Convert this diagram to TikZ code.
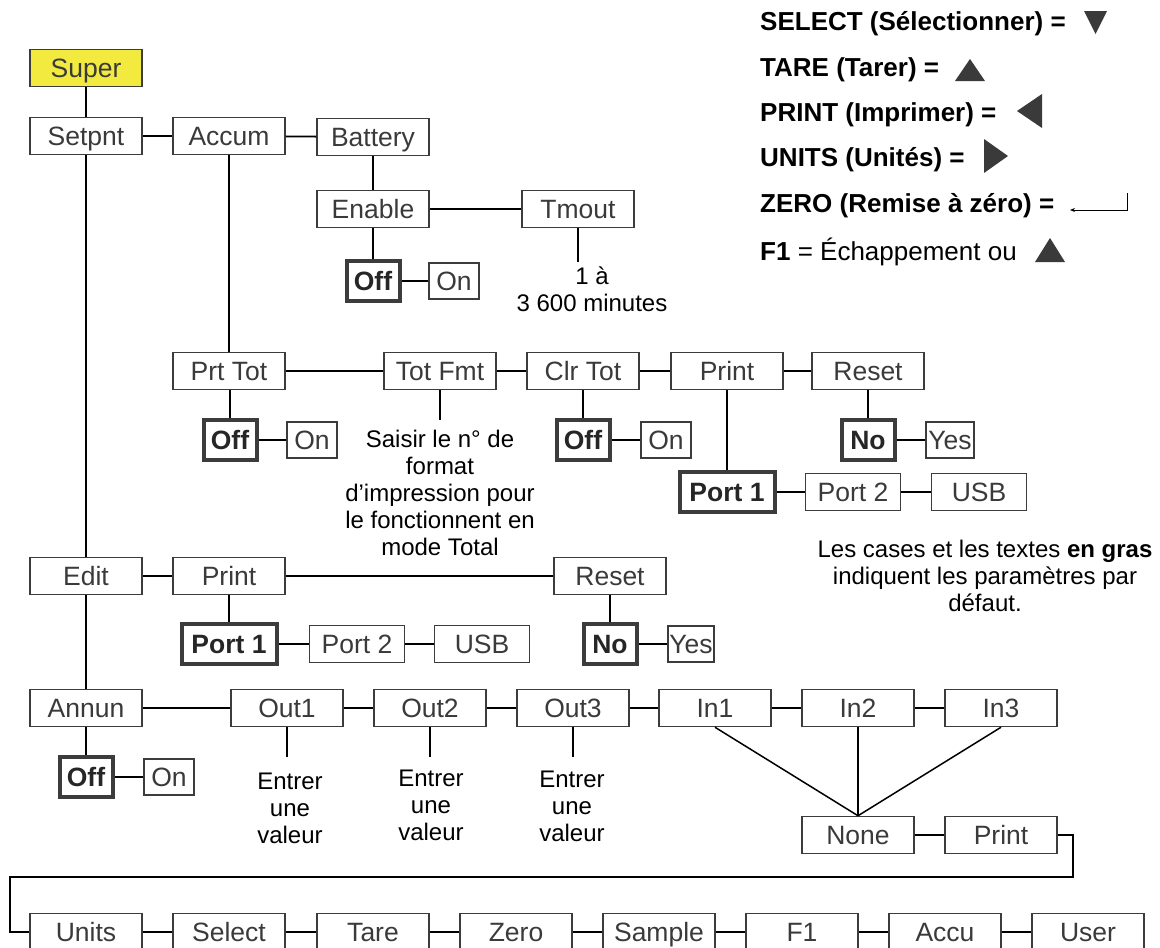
\documentclass[tikz,border=0pt]{standalone}
\usepackage{fontspec}
\setmainfont{Liberation Sans}
\usetikzlibrary{arrows.meta}
\definecolor{boxgray}{HTML}{3C3C3C}
\definecolor{txtgray}{HTML}{3A3A3A}
\definecolor{symgray}{HTML}{3A3A3A}
\definecolor{superyellow}{HTML}{F2EA3E}
\newcommand\myboxfont{\fontsize{26.5}{29}\selectfont}
\newcommand\mynotefont{\fontsize{24}{27}\selectfont}
\begin{document}
\begin{tikzpicture}[x=1pt,y=-1pt,
  box/.style={draw=boxgray, line width=1.5pt, fill=white, inner sep=0pt,
    minimum width=112pt, minimum height=37pt, font=\myboxfont, text=txtgray,
    text height=19pt, text depth=0pt},
  defbox/.style={box, line width=4pt, font=\myboxfont\bfseries, text=black!85,
    minimum width=53pt, minimum height=40pt},
  small/.style={box, minimum width=50pt, minimum height=36pt},
  port/.style={box, minimum width=95pt},
  link/.style={line width=1.8pt, black},
  note/.style={align=center, font=\mynotefont, inner sep=0pt, text=black},
  legend/.style={anchor=west, font=\fontsize{26}{29}\selectfont\bfseries, inner sep=0pt, text=black},
  tri/.style={fill=symgray}
]
\useasboundingbox (0,0) rectangle (1160,948);
\fill[white] (0,0) rectangle (1160,948);

% ---------- legend ----------
\node[legend] (lsel) at (760,24) {SELECT (Sélectionner) =};
\node[legend] (ltare) at (760,70) {TARE (Tarer) =};
\node[legend] (lprint) at (760,115) {PRINT (Imprimer) =};
\node[legend] (lunits) at (760,160) {UNITS (Unités) =};
\node[legend] (lzero) at (760,206) {ZERO (Remise à zéro) =};
\node[legend] (lf1) at (760,252) {F1 \mdseries= Échappement ou};
\fill[tri] (1084,11) -- (1107,11) -- (1095.5,34) -- cycle;
\fill[tri] (955,81) -- (985,81) -- (970,59) -- cycle;
\fill[tri] (1017,111) -- (1042,94) -- (1042,128) -- cycle;
\fill[tri] (984,139) -- (984,173) -- (1008,156) -- cycle;
\draw[line width=1pt, -{Stealth[length=5pt,width=4pt]}] (1127,193) -- (1127,210) -- (1070,210);
\fill[tri] (1035,262) -- (1065,262) -- (1050,238) -- cycle;

% ---------- Setpnt / Accum / Battery ----------
\node[box, fill=superyellow] (super) at (86,68) {Super};
\node[box] (setpnt) at (86,136) {Setpnt};
\node[box] (accum) at (229,136) {Accum};
\node[box] (battery) at (373,137) {Battery};
\node[box] (enable) at (373,209) {Enable};
\node[box] (tmout) at (578,209) {Tmout};
\node[defbox] (offA) at (373,281) {Off};
\node[small] (onA) at (454,281) {On};
\coordinate (tmend) at (578,262);
\node[note] (tmnote) at (592,289) {1 à\\3 600 minutes};

% ---------- Prt Tot row ----------
\node[box] (prttot) at (229,371) {Prt Tot};
\node[box] (totfmt) at (440,371) {Tot Fmt};
\node[box] (clrtot) at (583,371) {Clr Tot};
\node[box] (printA) at (727,371) {Print};
\node[box] (resetA) at (868,371) {Reset};
\node[defbox] (offB) at (230,440) {Off};
\node[small] (onB) at (312,440) {On};
\coordinate (fmtend) at (440,420);
\node[note] (fmtnote) at (440,493) {Saisir le n° de\\format\\d’impression pour\\le fonctionnent en\\mode Total};
\node[defbox] (offC) at (583,440) {Off};
\node[small] (onC) at (666,440) {On};
\node[defbox] (noA) at (868,440) {No};
\node[small, minimum width=48pt] (yesA) at (950,440) {Yes};
\node[port, defbox, minimum width=95pt] (port1A) at (727,492) {Port 1};
\node[port] (port2A) at (853,492) {Port 2};
\node[port] (usbA) at (979,492) {USB};
\node[note] (defnote) at (985,576) {Les cases et les textes \textbf{en gras}\\indiquent les paramètres par\\défaut.};

% ---------- Edit row ----------
\node[box] (edit) at (86,576) {Edit};
\node[box] (printB) at (229,576) {Print};
\node[box] (resetB) at (610,576) {Reset};
\node[port, defbox, minimum width=95pt] (port1B) at (229,644) {Port 1};
\node[port] (port2B) at (357,644) {Port 2};
\node[port] (usbB) at (482,644) {USB};
\node[defbox] (noB) at (610,644) {No};
\node[small, minimum width=46pt] (yesB) at (691,644) {Yes};

% ---------- Annun row ----------
\node[box] (annun) at (86,708) {Annun};
\node[box] (out1) at (287,708) {Out1};
\node[box] (out2) at (430,708) {Out2};
\node[box] (out3) at (573,708) {Out3};
\node[box] (in1) at (715,708) {In1};
\node[box] (in2) at (858,708) {In2};
\node[box] (in3) at (1001,708) {In3};
\node[defbox] (offD) at (86,777) {Off};
\node[small] (onD) at (169,777) {On};
\coordinate (o1end) at (287,757);
\coordinate (o2end) at (430,757);
\coordinate (o3end) at (573,757);
\node[note] (o1note) at (290,808) {Entrer\\une\\valeur};
\node[note] (o2note) at (431,805) {Entrer\\une\\valeur};
\node[note] (o3note) at (572,806) {Entrer\\une\\valeur};
\node[box] (none) at (858,835) {None};
\node[box] (printC) at (1001,835) {Print};

% ---------- bottom row ----------
\node[box] (units) at (86,932) {Units};
\node[box] (select) at (229,932) {Select};
\node[box] (tare) at (373,932) {Tare};
\node[box] (zero) at (516,932) {Zero};
\node[box] (sample) at (659,932) {Sample};
\node[box] (f1) at (802,932) {F1};
\node[box] (accu) at (945,932) {Accu};
\node[box] (user) at (1088,932) {User};
\coordinate (r1) at (1073,835);
\coordinate (r2) at (1073,877);
\coordinate (r3) at (10,877);

% ---------- connectors ----------
\draw[link] (super) -- (setpnt);
\draw[link] (setpnt) -- (accum);
\draw[link] (accum) -- (battery);
\draw[link] (battery) -- (enable);
\draw[link] (enable) -- (tmout);
\draw[link] (enable) -- (offA);
\draw[link] (offA) -- (onA);
\draw[link] (tmout.south) -- (tmend);
\draw[link] (accum) -- (prttot);
\draw[link] (prttot) -- (totfmt);
\draw[link] (totfmt) -- (clrtot);
\draw[link] (clrtot) -- (printA);
\draw[link] (printA) -- (resetA);
\draw[link] (prttot.south -| offB) -- (offB);
\draw[link] (offB) -- (onB);
\draw[link] (totfmt.south) -- (fmtend);
\draw[link] (clrtot) -- (offC);
\draw[link] (offC) -- (onC);
\draw[link] (resetA) -- (noA);
\draw[link] (noA) -- (yesA);
\draw[link] (printA) -- (port1A);
\draw[link] (port1A) -- (port2A);
\draw[link] (port2A) -- (usbA);
\draw[link] (setpnt) -- (edit);
\draw[link] (edit) -- (printB);
\draw[link] (printB) -- (resetB);
\draw[link] (printB) -- (port1B);
\draw[link] (port1B) -- (port2B);
\draw[link] (port2B) -- (usbB);
\draw[link] (resetB) -- (noB);
\draw[link] (noB) -- (yesB);
\draw[link] (edit) -- (annun);
\draw[link] (annun) -- (out1);
\draw[link] (out1) -- (out2);
\draw[link] (out2) -- (out3);
\draw[link] (out3) -- (in1);
\draw[link] (in1) -- (in2);
\draw[link] (in2) -- (in3);
\draw[link] (annun) -- (offD);
\draw[link] (offD) -- (onD);
\draw[link] (out1.south) -- (o1end);
\draw[link] (out2.south) -- (o2end);
\draw[link] (out3.south) -- (o3end);
\draw[link, line width=1.5pt] (in1.south) -- (none.north);
\draw[link, line width=1.5pt] (in2.south) -- (none.north);
\draw[link, line width=1.5pt] (in3.south) -- (none.north);
\draw[link] (none) -- (printC);
\draw[link] (printC.east) -- (r1) -- (r2) -- (r3) |- (units.west);
\draw[link] (units) -- (select);
\draw[link] (select) -- (tare);
\draw[link] (tare) -- (zero);
\draw[link] (zero) -- (sample);
\draw[link] (sample) -- (f1);
\draw[link] (f1) -- (accu);
\draw[link] (accu) -- (user);
\end{tikzpicture}
\end{document}
